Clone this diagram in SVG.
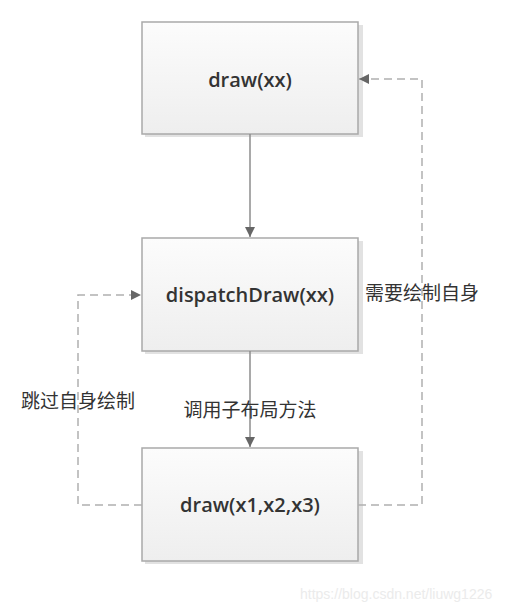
<svg xmlns="http://www.w3.org/2000/svg" width="508" height="612" viewBox="0 0 508 612">
<defs>
<linearGradient id="g" x1="0" y1="0" x2="0" y2="1"><stop offset="0" stop-color="#fcfcfc"/><stop offset="1" stop-color="#eeeeee"/></linearGradient>
<marker id="ah" viewBox="0 0 10 10" refX="10" refY="5" markerWidth="10" markerHeight="10" markerUnits="userSpaceOnUse" orient="auto"><path d="M0,0 L10,5 L0,10 Z" fill="#666"/></marker>
<style>
.box{fill:url(#g);stroke:#a9a9a9;stroke-width:1.5}
.sh{fill:#e2e2e2}
.t{font-family:"Open Sans","Noto Sans",sans-serif;font-weight:600;font-size:20px;fill:#333;text-anchor:middle}
.lb{font-family:"Noto Sans CJK SC",sans-serif;font-size:19px;fill:#333;text-anchor:middle}
.s{fill:none;stroke:#8c8c8c;stroke-width:1.5}
.d{fill:none;stroke:#b0b0b0;stroke-width:1.5;stroke-dasharray:8,5}
.wm{font-family:"Liberation Sans",sans-serif;font-size:14px;fill:#ebebeb}
</style>
</defs>
<g id="node1"><rect class="sh" x="145" y="25" width="218" height="112"/><rect class="box" x="142" y="22" width="216" height="112"/><text class="t" x="250" y="87">draw(xx)</text></g>
<g id="node2"><rect class="sh" x="145" y="241" width="218" height="113"/><rect class="box" x="142" y="238" width="216" height="113"/><text class="t" x="250" y="302">dispatchDraw(xx)</text></g>
<g id="node3"><rect class="sh" x="145" y="451" width="218" height="113"/><rect class="box" x="142" y="448" width="216" height="113"/><text class="t" x="250" y="512">draw(x1,x2,x3)</text></g>
<g id="connectors">
<path class="s" d="M250,134 V237" marker-end="url(#ah)"/>
<path class="s" d="M250,351 V447" marker-end="url(#ah)"/>
<path class="d" d="M358,505 H422 V79 H359" marker-end="url(#ah)"/>
<path class="d" d="M142,505 H78 V295 H141" marker-end="url(#ah)"/>
</g>
<g id="labels">
<text class="lb" x="422" y="300">需要绘制自身</text>
<text class="lb" x="250" y="417">调用子布局方法</text>
<text class="lb" x="78" y="408">跳过自身绘制</text>
</g>
<text class="wm" x="300" y="599">https://blog.csdn.net/liuwg1226</text>
</svg>
